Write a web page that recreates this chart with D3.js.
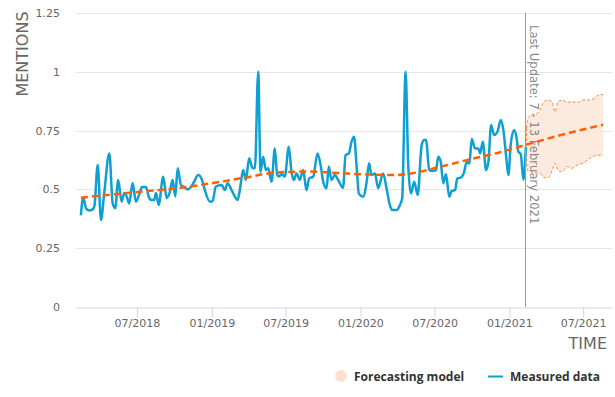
<!DOCTYPE html>
<html>
<head>
<meta charset="utf-8">
<script src="https://cdn.jsdelivr.net/npm/d3@7"></script>
<style>
  html, body { margin: 0; padding: 0; background: #fff; }
  svg { display: block; font-family: "DejaVu Sans", "Open Sans", sans-serif; }
</style>
</head>
<body>
<svg id="chart" width="615" height="397"></svg>
<script>
// ---- DATA (times are decimal years) ----
const measuredTime = [
  2018.119, 2018.135, 2018.153, 2018.175, 2018.198, 2018.210, 2018.232, 2018.254, 2018.276, 2018.310,
  2018.333, 2018.350, 2018.370, 2018.393, 2018.411, 2018.427, 2018.444, 2018.467, 2018.489, 2018.512,
  2018.530, 2018.557, 2018.575, 2018.590, 2018.612, 2018.624, 2018.642, 2018.673, 2018.696, 2018.718,
  2018.736, 2018.754, 2018.770, 2018.792, 2018.814, 2018.837, 2018.859, 2018.881, 2018.908, 2018.938,
  2018.953, 2018.987, 2019.005, 2019.027, 2019.066, 2019.088, 2019.106, 2019.133, 2019.173, 2019.189,
  2019.211, 2019.229, 2019.251, 2019.274, 2019.290, 2019.312, 2019.328, 2019.345, 2019.364, 2019.379,
  2019.402, 2019.424, 2019.440, 2019.453, 2019.469, 2019.491, 2019.518, 2019.536, 2019.552, 2019.570,
  2019.592, 2019.614, 2019.637, 2019.655, 2019.682, 2019.711, 2019.733, 2019.749, 2019.772, 2019.787,
  2019.805, 2019.828, 2019.850, 2019.883, 2019.900, 2019.922, 2019.940, 2019.957, 2019.974, 2019.989,
  2020.018, 2020.041, 2020.058, 2020.074, 2020.097, 2020.119, 2020.152, 2020.175, 2020.197, 2020.213,
  2020.243, 2020.265, 2020.280, 2020.303, 2020.321, 2020.339, 2020.361, 2020.384, 2020.411, 2020.428,
  2020.440, 2020.462, 2020.485, 2020.507, 2020.522, 2020.538, 2020.556, 2020.574, 2020.596, 2020.612,
  2020.635, 2020.650, 2020.673, 2020.695, 2020.713, 2020.731, 2020.747, 2020.769, 2020.791, 2020.803,
  2020.821, 2020.843, 2020.859, 2020.877, 2020.897, 2020.919, 2020.942, 2020.959, 2020.978, 2020.993,
  2021.009, 2021.031, 2021.050, 2021.060, 2021.076, 2021.094, 2021.110
];
const measuredValue = [
  0.39, 0.466, 0.42, 0.41, 0.415, 0.43, 0.604, 0.37, 0.485, 0.653,
  0.44, 0.42, 0.54, 0.448, 0.485, 0.47, 0.44, 0.527, 0.448, 0.48,
  0.51, 0.51, 0.47, 0.455, 0.455, 0.485, 0.434, 0.554, 0.463, 0.49,
  0.54, 0.47, 0.59, 0.519, 0.51, 0.50, 0.51, 0.533, 0.561, 0.533,
  0.497, 0.448, 0.45, 0.512, 0.519, 0.497, 0.526, 0.497, 0.455, 0.50,
  0.582, 0.54, 0.632, 0.59, 0.59, 1.0, 0.575, 0.639, 0.582, 0.59,
  0.533, 0.674, 0.561, 0.555, 0.565, 0.555, 0.681, 0.575, 0.54, 0.568,
  0.54, 0.582, 0.497, 0.547, 0.554, 0.653, 0.60, 0.533, 0.505, 0.597,
  0.54, 0.561, 0.54, 0.507, 0.646, 0.653, 0.703, 0.724, 0.60, 0.483,
  0.469, 0.53, 0.611, 0.561, 0.568, 0.505, 0.568, 0.505, 0.434, 0.412,
  0.412, 0.434, 0.462, 1.0, 0.60, 0.483, 0.533, 0.476, 0.689, 0.71,
  0.71, 0.582, 0.578, 0.582, 0.639, 0.62, 0.526, 0.564, 0.469, 0.493,
  0.497, 0.547, 0.55, 0.572, 0.618, 0.61, 0.714, 0.674, 0.674, 0.653,
  0.703, 0.582, 0.62, 0.774, 0.731, 0.745, 0.795, 0.753, 0.639, 0.561,
  0.695, 0.753, 0.71, 0.66, 0.65, 0.54, 0.68
];

const trendTime  = [2018.119, 2018.516, 2018.765, 2018.987, 2019.222, 2019.437, 2019.659, 2019.841, 2020.063, 2020.218, 2020.332, 2020.514, 2020.736, 2020.937, 2021.107, 2021.340, 2021.630];
const trendValue = [0.465, 0.49, 0.505, 0.525, 0.55, 0.572, 0.576, 0.57, 0.563, 0.561, 0.567, 0.593, 0.628, 0.658, 0.689, 0.73, 0.775];

const bandTime  = [2021.115, 2021.125, 2021.146, 2021.179, 2021.206, 2021.233, 2021.260, 2021.287, 2021.307, 2021.327, 2021.354, 2021.388, 2021.421, 2021.462, 2021.495, 2021.529, 2021.563, 2021.596, 2021.630];
const bandUpper = [0.76, 0.805, 0.816, 0.82, 0.84, 0.873, 0.88, 0.87, 0.83, 0.873, 0.88, 0.87, 0.873, 0.87, 0.88, 0.88, 0.885, 0.90, 0.904];
const bandLower = [0.61, 0.578, 0.575, 0.57, 0.568, 0.55, 0.55, 0.58, 0.611, 0.58, 0.575, 0.597, 0.59, 0.605, 0.611, 0.628, 0.64, 0.646, 0.642];

const lastUpdateTime = 2021.105;
const lastUpdateLabel = "Last Update: 7 - 13 February 2021";
const yTicks = [0, 0.25, 0.5, 0.75, 1, 1.25];
const xDomain = [2018.086, 2021.690];
const yDomain = [0, 1.25];
const legendLabels = ["Forecasting model", "Measured data"];

// ---- helpers ----
function decYear(t) {
  const yr = Math.floor(t);
  const s = new Date(yr, 0, 1), e = new Date(yr + 1, 0, 1);
  return new Date(+s + (t - yr) * (e - s));
}

const svg = d3.select("#chart");
const plotLeft = 76, plotRight = 612, plotTop = 13, plotBottom = 307;

const x = d3.scaleTime().domain(xDomain.map(decYear)).range([plotLeft, plotRight]);
const y = d3.scaleLinear().domain(yDomain).range([plotBottom, plotTop]);

// grid
svg.append("g").selectAll("line").data(yTicks.filter(d => d > 0)).join("line")
  .attr("x1", plotLeft).attr("x2", plotRight)
  .attr("y1", d => Math.round(y(d)) + 0.5).attr("y2", d => Math.round(y(d)) + 0.5)
  .attr("stroke", "#e6e6e6").attr("stroke-width", 1);

// y labels
svg.append("g").selectAll("text").data(yTicks).join("text")
  .attr("x", 60).attr("y", d => y(d) + 4)
  .attr("text-anchor", "end").attr("font-size", 11).attr("fill", "#666")
  .text(d => d3.format("")(d));

// x axis
const xAxis = d3.axisBottom(x).ticks(d3.timeMonth.every(6)).tickFormat(d3.timeFormat("%m/%Y")).tickSize(10).tickSizeOuter(0);
const gx = svg.append("g").attr("transform", `translate(0,${plotBottom + 0.5})`).call(xAxis);
gx.select(".domain").attr("stroke", "#ccd6eb");
gx.selectAll(".tick line").attr("stroke", "#ccd6eb");
gx.selectAll(".tick text").attr("fill", "#666").attr("font-size", 11).attr("dy", 0).attr("y", 19)
  .attr("font-family", "DejaVu Sans, sans-serif");

// axis titles
svg.append("text").attr("transform", `translate(28,54) rotate(-90)`)
  .attr("text-anchor", "middle").attr("font-size", 16).attr("fill", "#666").text("MENTIONS");
svg.append("text").attr("x", 607).attr("y", 349)
  .attr("text-anchor", "end").attr("font-size", 16).attr("fill", "#666").text("TIME");

// forecast band
const bandData = bandTime.map((t, i) => ({ t: decYear(t), u: bandUpper[i], l: bandLower[i] }));
svg.append("path").datum(bandData)
  .attr("d", d3.area().x(d => x(d.t)).y0(d => y(d.l)).y1(d => y(d.u)).curve(d3.curveMonotoneX))
  .attr("fill", "#fde6d8").attr("fill-opacity", 0.85);
const bandLine = (key) => d3.line().x(d => x(d.t)).y(d => y(d[key])).curve(d3.curveMonotoneX);
["u", "l"].forEach(k => {
  svg.append("path").datum(bandData).attr("d", bandLine(k)).attr("fill", "none")
    .attr("stroke", "#ff8a33").attr("stroke-width", 1).attr("stroke-dasharray", "3,2");
});
svg.append("line")
  .attr("x1", x(decYear(bandTime[0]))).attr("x2", x(decYear(bandTime[0])))
  .attr("y1", y(bandUpper[0])).attr("y2", y(bandLower[0]))
  .attr("stroke", "#ff8a33").attr("stroke-width", 1).attr("stroke-dasharray", "3,2");

// measured line
const measured = measuredTime.map((t, i) => ({ t: decYear(t), v: measuredValue[i] }));
svg.append("path").datum(measured)
  .attr("d", d3.line().x(d => x(d.t)).y(d => y(d.v)).curve(d3.curveMonotoneX))
  .attr("fill", "none").attr("stroke", "#0e9fd3").attr("stroke-width", 2.5).attr("stroke-linejoin", "round");

// trend line
const trend = trendTime.map((t, i) => ({ t: decYear(t), v: trendValue[i] }));
svg.append("path").datum(trend)
  .attr("d", d3.line().x(d => x(d.t)).y(d => y(d.v)).curve(d3.curveMonotoneX))
  .attr("fill", "none").attr("stroke", "#ff6000").attr("stroke-width", 2.5).attr("stroke-dasharray", "7,4");

// last update line
const lx = Math.round(x(decYear(lastUpdateTime))) + 0.5;
svg.append("line").attr("x1", lx).attr("x2", lx).attr("y1", plotTop).attr("y2", plotBottom)
  .attr("stroke", "#999").attr("stroke-width", 1);
svg.append("text").attr("transform", `translate(${lx + 4},25) rotate(90)`)
  .attr("font-size", 11.6).attr("fill", "#888").text(lastUpdateLabel);

// legend
const lg = svg.append("g").attr("font-family", "'Open Sans', sans-serif");
lg.append("circle").attr("cx", 341).attr("cy", 376).attr("r", 6).attr("fill", "#fde0cf");
lg.append("text").attr("x", 354).attr("y", 381).attr("font-size", 12).attr("font-weight", "bold")
  .attr("fill", "#333").text(legendLabels[0]);
lg.append("line").attr("x1", 488).attr("x2", 503).attr("y1", 376.5).attr("y2", 376.5)
  .attr("stroke", "#0e9fd3").attr("stroke-width", 2);
lg.append("text").attr("x", 510).attr("y", 381).attr("font-size", 12).attr("font-weight", "bold")
  .attr("fill", "#333").text(legendLabels[1]);
</script>
</body>
</html>
